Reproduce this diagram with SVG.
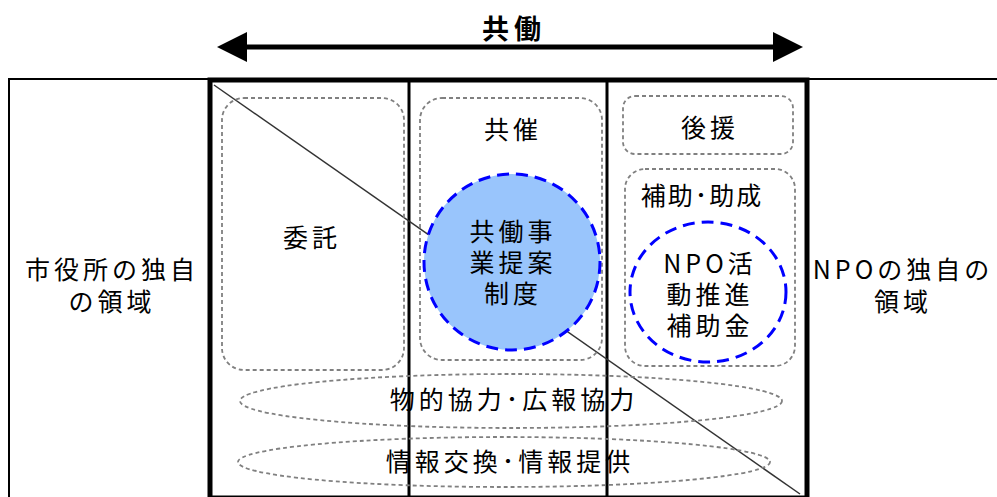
<svg xmlns="http://www.w3.org/2000/svg" width="997" height="497" viewBox="0 0 997 497">
<defs>
<style>
.t{font-family:"Noto Sans CJK JP","Noto Sans",sans-serif;font-size:25px;fill:#000;text-anchor:middle;letter-spacing:4px}
.g{fill:none;stroke:#808080;stroke-width:1.8;stroke-dasharray:4 3}
.b{stroke:#0000ff;stroke-width:3;stroke-dasharray:12 7}
</style>
<marker id="ah" markerWidth="6" markerHeight="6" refX="3" refY="3" orient="auto-start-reverse" markerUnits="strokeWidth"><path d="M0,0 L6,3 L0,6 Z" fill="#000"/></marker>
</defs>
<rect width="997" height="497" fill="#fff"/>
<g id="frame">
<path d="M9,497 V79 H997" fill="none" stroke="#000" stroke-width="2"/>
<line x1="409" y1="79" x2="409" y2="497" stroke="#000" stroke-width="3"/>
<line x1="607" y1="79" x2="607" y2="497" stroke="#000" stroke-width="3"/>
<rect x="210" y="80" width="597" height="418" fill="none" stroke="#000" stroke-width="5"/>
</g>
<g id="connectors">
<line x1="232" y1="47" x2="788" y2="47" stroke="#000" stroke-width="5" marker-start="url(#ah)" marker-end="url(#ah)"/>
<line x1="214" y1="85" x2="800" y2="494" stroke="#333" stroke-width="1.5"/>
</g>
<g id="title"><text x="514" y="39" class="t" style="font-weight:bold;font-size:27px;letter-spacing:5px">共働</text></g>
<g id="city"><text x="112" y="279" class="t">市役所の独自</text><text x="112" y="311" class="t">の領域</text></g>
<g id="npo"><text x="903" y="279" class="t">NPOの独自の</text><text x="903" y="311" class="t">領域</text></g>
<g id="itaku"><rect x="222" y="98" width="182" height="272" rx="22" class="g"/><text x="312" y="247" class="t">委託</text></g>
<g id="kyosai"><rect x="420" y="98" width="182" height="262" rx="22" class="g"/><text x="513" y="139" class="t">共催</text></g>
<g id="seido"><circle cx="512" cy="262" r="88" fill="#99c5fc" class="b"/><text x="513" y="241" class="t">共働事</text><text x="513" y="272" class="t">業提案</text><text x="513" y="303" class="t">制度</text></g>
<g id="koen"><rect x="623" y="96" width="170" height="58" rx="12" class="g"/><text x="710" y="137" class="t">後援</text></g>
<g id="hojo"><rect x="625" y="169" width="170" height="197" rx="20" class="g"/><text x="702" y="205" class="t" style="letter-spacing:2px">補助･助成</text>
<ellipse cx="708" cy="292" rx="78" ry="70" fill="none" class="b"/>
<text x="710" y="273" class="t">NPO活</text><text x="710" y="304" class="t">動推進</text><text x="710" y="335" class="t">補助金</text></g>
<g id="butsu"><ellipse cx="511" cy="401" rx="271" ry="27" class="g"/><text x="514" y="409" class="t">物的協力･広報協力</text></g>
<g id="joho"><ellipse cx="504" cy="462" rx="266" ry="25" class="g"/><text x="510" y="471" class="t">情報交換･情報提供</text></g>
</svg>
